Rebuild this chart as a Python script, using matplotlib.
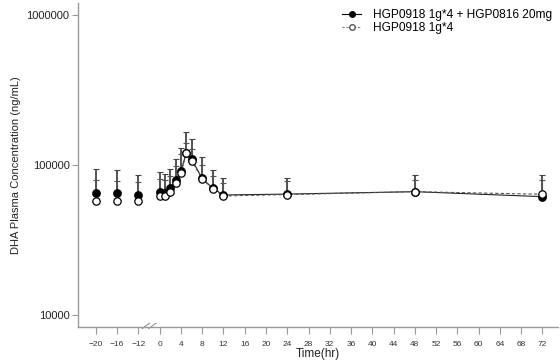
import matplotlib
matplotlib.use("Agg")
import matplotlib.pyplot as plt
import matplotlib.transforms as mtransforms
import numpy as np

plt.rcParams['font.family'] = ['Liberation Sans', 'DejaVu Sans']

# ---- data ----
times = [-20, -16, -12, 0, 1, 2, 3, 4, 5, 6, 8, 10, 12, 24, 48, 72]
combo_mean = [65400, 64800, 62800, 66400, 65400, 69900, 79400, 91200, 119600,
              109100, 81500, 69900, 63100, 64000, 66400, 61500]
combo_sd = [28200, 27800, 22600, 23000, 21700, 24600, 29700, 39300, 47100,
            40000, 32100, 23100, 18800, 17500, 19400, 24300]
mono_mean = [57500, 57800, 57800, 62400, 62400, 65800, 75500, 88000, 119600,
             106300, 80700, 69200, 62200, 63500, 66400, 63800]
mono_sd = [21900, 20400, 19600, 17900, 16600, 18200, 22500, 30000, 19900,
           21000, 19300, 15800, 13800, 14500, 13600, 16200]
tick_times = [-20, -16, -12] + list(range(0, 73, 4))
tick_labels = ["\u221220", "\u221216", "\u221212"] + [str(t) for t in range(0, 73, 4)]
series_labels = ["HGP0918 1g*4 + HGP0816 20mg", "HGP0918 1g*4"]

# broken axis: pre-dose times shifted closer to zero
def pos(t):
    t = np.asarray(t, dtype=float)
    return np.where(t < 0, t + 8, t)

fig = plt.figure(figsize=(5.6, 3.63), dpi=100)
ax = fig.add_axes([0.139, 0.099, 0.858, 0.893])

x = pos(times)
cm = np.array(combo_mean); cs = np.array(combo_sd)
mm = np.array(mono_mean); ms = np.array(mono_sd)
post = np.array(times) >= 0

# error bars (upper only)
ax.errorbar(x, cm, yerr=[np.zeros_like(cs), cs], fmt='none', ecolor='#444444',
            elinewidth=1.3, capsize=2, capthick=0.8, zorder=2)
ax.errorbar(x, mm, yerr=[np.zeros_like(ms), ms], fmt='none', ecolor='#555555',
            elinewidth=0.8, capsize=2, capthick=0.8, zorder=2)

# lines (post-dose only)
ax.plot(x[post], cm[post], '-', color='#222222', lw=0.8, zorder=3)
ax.plot(x[post], mm[post], '--', color='#555555', lw=0.8, dashes=(3, 2), zorder=3)
# markers
ax.plot(x, cm, 'o', color='black', ms=5.3, zorder=4)
ax.plot(x, mm, 'o', mfc='white', mec='black', mew=0.9, ms=5.3, zorder=5)

# legend handles
h1, = ax.plot([], [], '-o', color='black', lw=0.8, ms=4)
h2, = ax.plot([], [], '--o', color='#777777', mfc='white', mec='#555555', lw=0.8, ms=4, dashes=(2, 1.5))
ax.legend([h1, h2], series_labels, loc='upper right', frameon=False,
          fontsize=8.6, handlelength=1.6, handletextpad=1.0, labelspacing=0.1,
          bbox_to_anchor=(1.0, 1.0), borderaxespad=0.1)

ax.set_yscale('log')
ax.set_ylim(10 ** 3.92, 10 ** 6.08)
ax.set_xlim(-15.4, 75)
ax.set_yticks([10000, 100000, 1000000])
ax.set_yticklabels(["10000", "100000", "1000000"])
ax.yaxis.set_minor_locator(matplotlib.ticker.NullLocator())
ax.set_xticks(pos(tick_times))
ax.set_xticklabels(tick_labels)

for s in ['top', 'right']:
    ax.spines[s].set_visible(False)
for s in ['left', 'bottom']:
    ax.spines[s].set_color('#999999')
    ax.spines[s].set_linewidth(1.0)
ax.tick_params(axis='y', colors='#999999', labelcolor='#222222', labelsize=8, length=4, width=0.8, pad=2)
ax.tick_params(axis='x', colors='#999999', labelcolor='#333333', labelsize=6, length=5, width=0.8, pad=5)

ax.set_ylabel("DHA Plasma Concentration (ng/mL)", fontsize=8, color='#222222')
ax.yaxis.set_label_coords(-0.118, 0.5)
ax.set_xlabel("Time(hr)", fontsize=8.5, color='#222222')
ax.xaxis.set_label_coords(0.5, -0.066)

# axis break marks
trans = mtransforms.blended_transform_factory(ax.transData, ax.transAxes)
for dx in (-2.6, -1.4):
    ax.plot([dx - 0.7, dx + 0.7], [-0.005, 0.012], transform=trans, color='#888888', lw=0.7, clip_on=False)

fig.savefig("out.png", dpi=100)
